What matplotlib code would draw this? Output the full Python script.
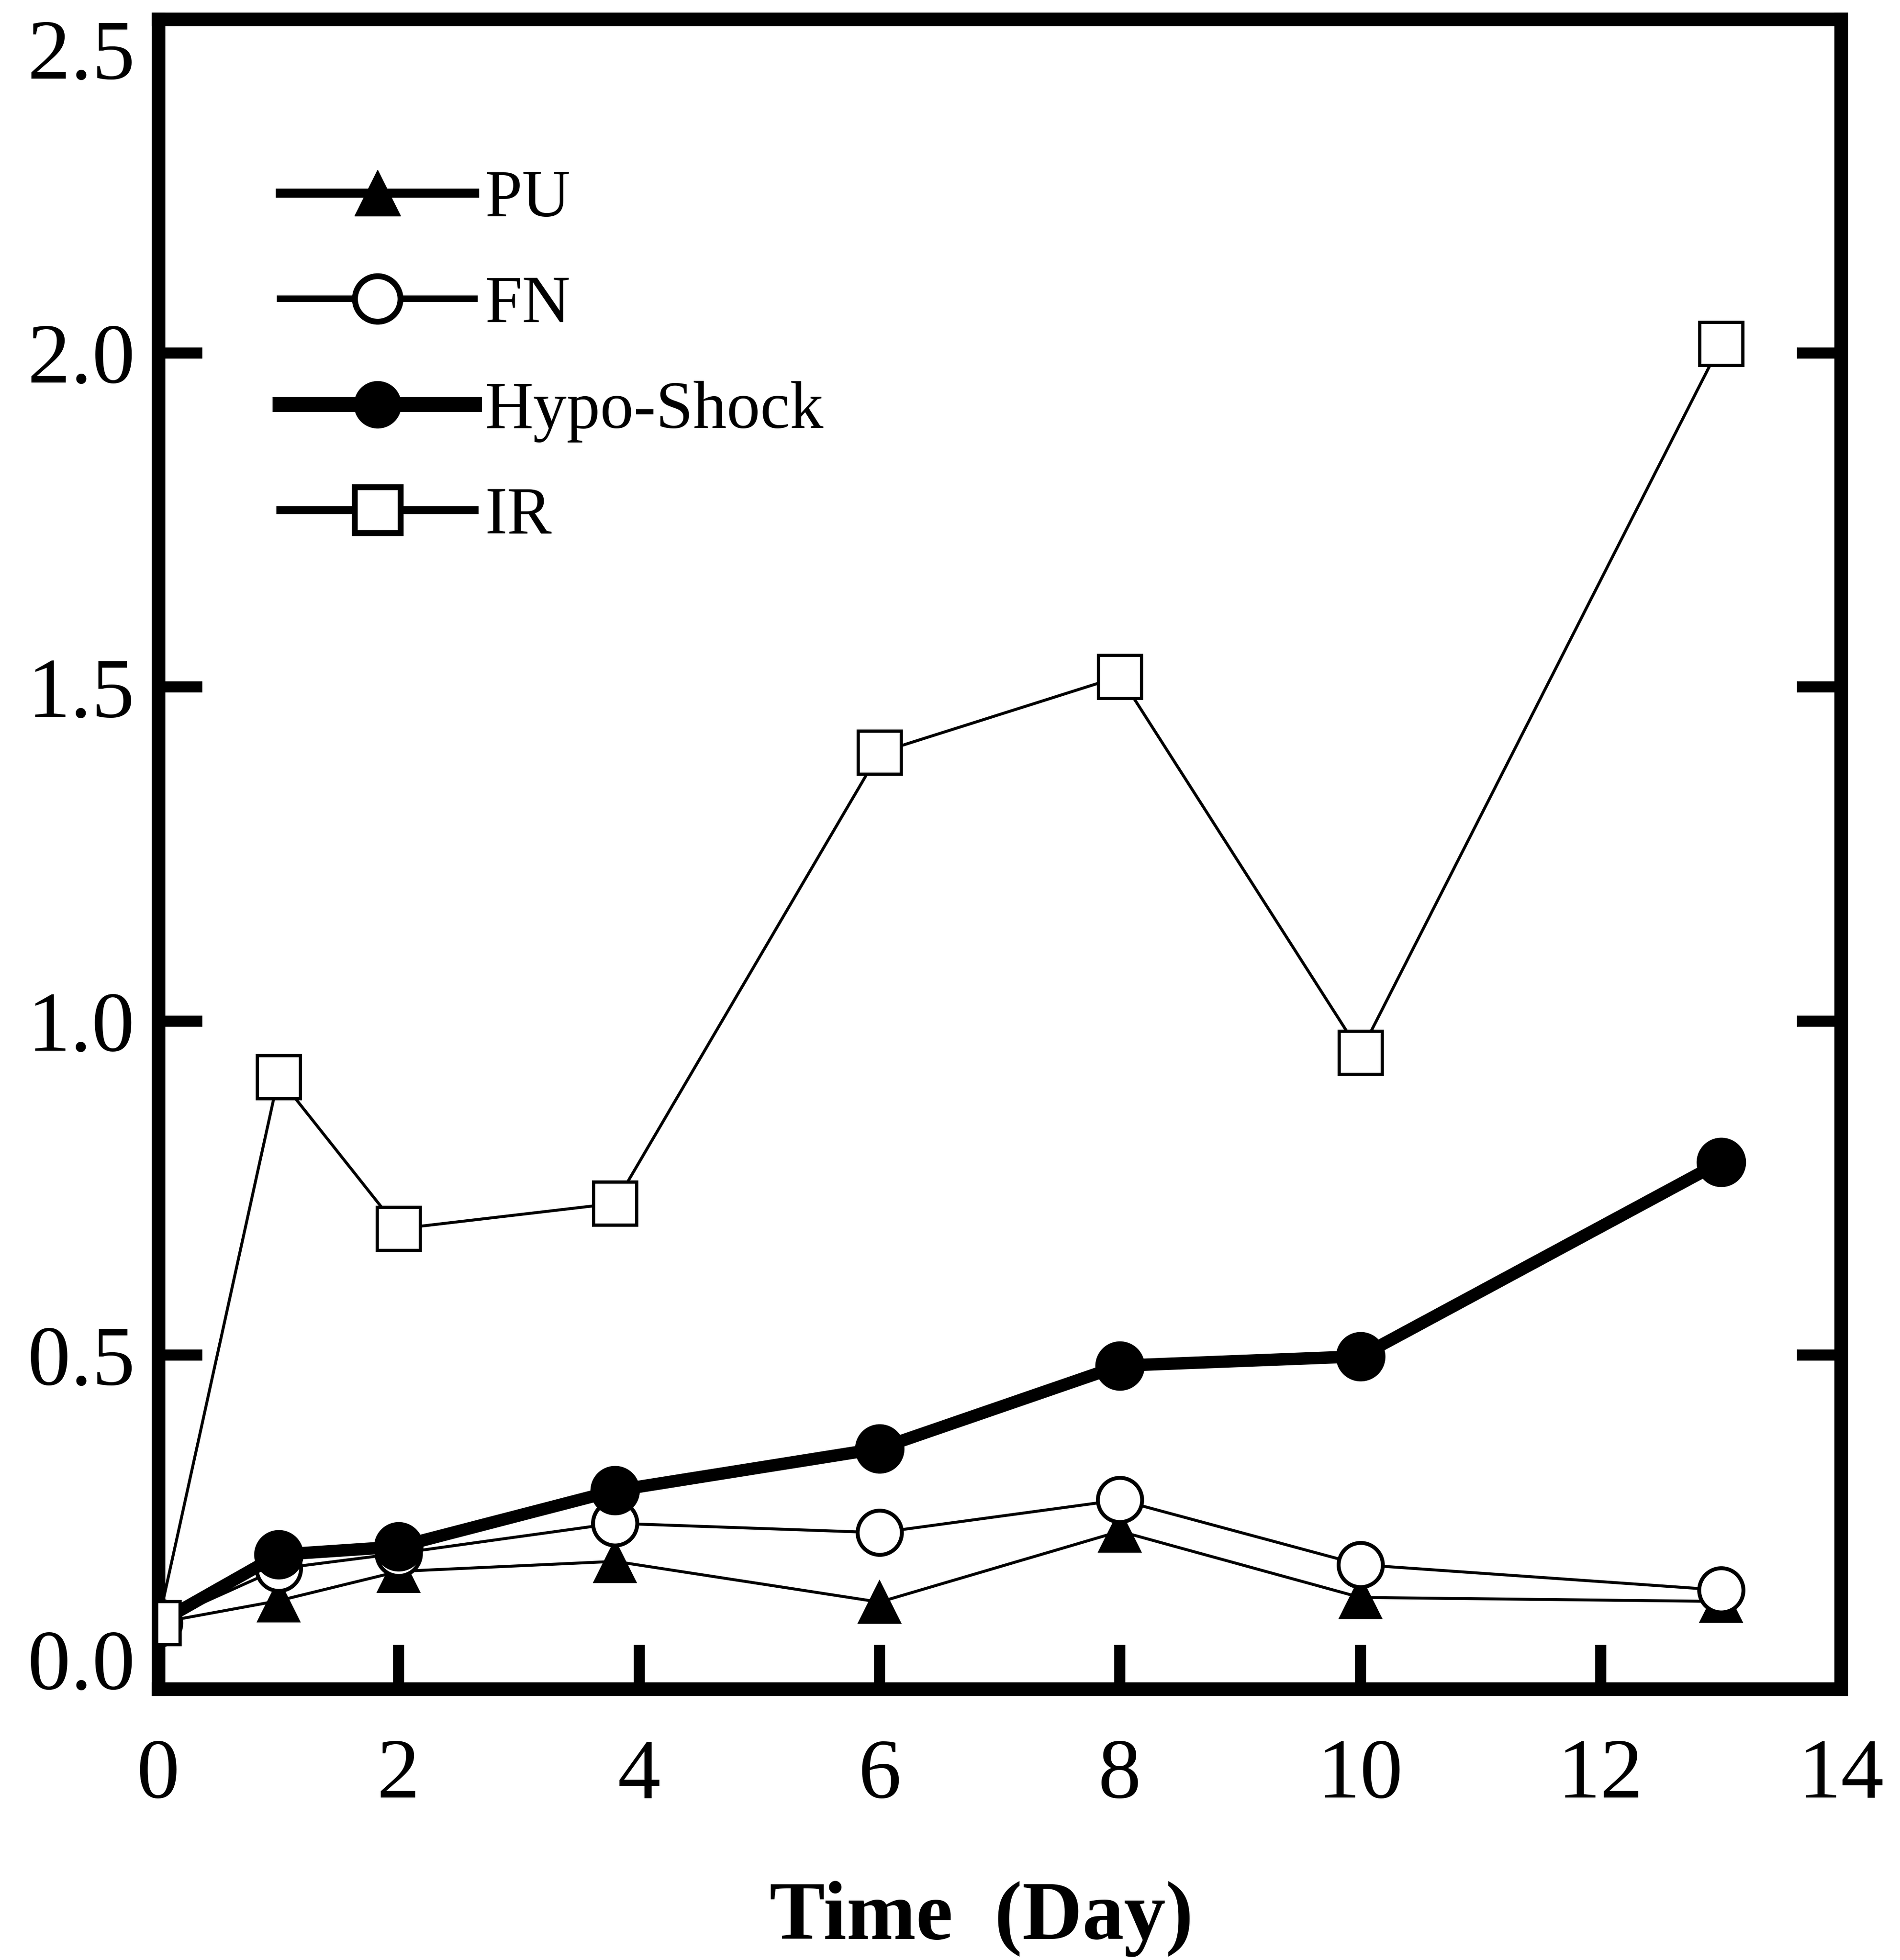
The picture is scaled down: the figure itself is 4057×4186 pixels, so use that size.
import numpy as np
import matplotlib
matplotlib.use('Agg')
import matplotlib.pyplot as plt
from matplotlib.lines import Line2D

############################################################################
#                               Data
############################################################################

days = [0, 1, 2, 3.8, 6, 8, 10, 13]

pu_vals   = [0.099, 0.132, 0.176, 0.191, 0.130, 0.236, 0.137, 0.131]
fn_vals   = [0.099, 0.180, 0.203, 0.248, 0.234, 0.283, 0.186, 0.148]
hypo_vals = [0.099, 0.201, 0.213, 0.297, 0.360, 0.484, 0.498, 0.789]
ir_vals   = [0.099, 0.916, 0.689, 0.727, 1.402, 1.516, 0.953, 2.014]

labels = ['PU', 'FN', 'Hypo-Shock', 'IR']

xticks = [0, 2, 4, 6, 8, 10, 12, 14]
yticks = [0.0, 0.5, 1.0, 1.5, 2.0, 2.5]

############################################################################
#                               Plot
############################################################################

plt.rcParams['font.family'] = ['Liberation Serif', 'DejaVu Serif']

fig = plt.figure(figsize=(40.57, 41.86), dpi=100)
ax = fig.add_axes([0.0833, 0.1383, 0.9690 - 0.0833, 0.9902 - 0.1383])

ax.plot(days, pu_vals, color='black', lw=4.5, marker='^', ms=64,
        mfc='black', mec='black', mew=3, zorder=3)
ax.plot(days, fn_vals, color='black', lw=4.5, marker='o', ms=68,
        mfc='white', mec='black', mew=6, zorder=4)
ax.plot(days, hypo_vals, color='black', lw=19, marker='o', ms=73,
        mfc='black', mec='black', mew=3, zorder=5)
ax.plot(days, ir_vals, color='black', lw=4.5, marker='s', ms=66,
        mfc='white', mec='black', mew=5, zorder=6)

ax.set_xlim(0, 14)
ax.set_ylim(0, 2.5)
ax.set_xticks(xticks)
ax.set_yticks(yticks)
ax.set_xticklabels([str(t) for t in xticks])
ax.set_yticklabels(['%.1f' % t for t in yticks])

for s in ax.spines.values():
    s.set_linewidth(21)

ax.tick_params(axis='both', direction='in', length=68, width=17,
               labelsize=132, top=False, right=True)
ax.tick_params(axis='x', pad=76)
ax.tick_params(axis='y', pad=36)

# end labels pulled inside the frame
ylabs = ax.get_yticklabels()
ylabs[0].set_verticalalignment('baseline')
ylabs[-1].set_verticalalignment('top')

ax.set_xlabel('Time  (Day)', fontsize=128, fontweight='bold')
ax.xaxis.set_label_coords(0.489, -0.1147)

# legend with heavier strokes than the data lines
handles = [
    Line2D([], [], color='black', lw=14, marker='^', ms=70, mfc='black', mec='black'),
    Line2D([], [], color='black', lw=10, marker='o', ms=70, mfc='white', mec='black', mew=9),
    Line2D([], [], color='black', lw=23, marker='o', ms=72, mfc='black', mec='black'),
    Line2D([], [], color='black', lw=12, marker='s', ms=70, mfc='white', mec='black', mew=9),
]
ax.legend(handles, labels, loc='upper left', bbox_to_anchor=(0.0724, 0.910),
          frameon=False, fontsize=103, handlelength=2.9, handletextpad=0.16,
          labelspacing=0.66, borderpad=0, borderaxespad=0, numpoints=1)

fig.savefig('out.png', dpi=100, facecolor='white')
